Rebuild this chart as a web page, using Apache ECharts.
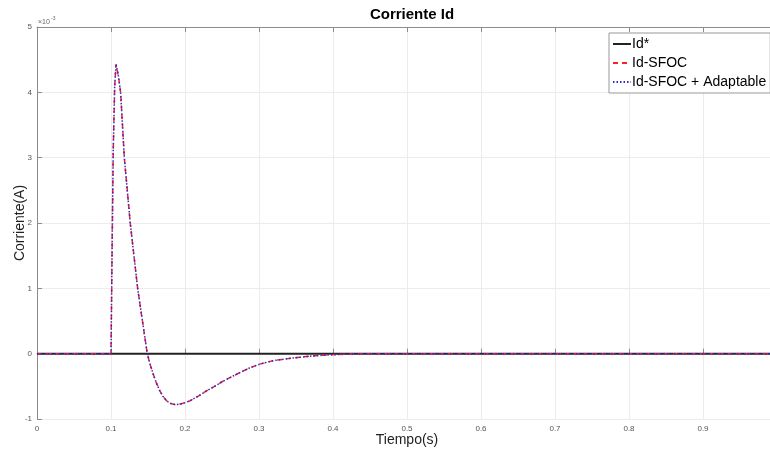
<!DOCTYPE html>
<html>
<head>
<meta charset="utf-8">
<script src="https://cdn.jsdelivr.net/npm/echarts@6/dist/echarts.min.js"></script>
<style>html,body{margin:0;padding:0;background:#fff}#c{width:770px;height:452px}</style>
</head>
<body>
<div id="c"></div>
<script>
// Values in units of 1e-3 A (axis shows x10^-3)
const refTime = [0, 1];
const refValues = [0, 0];
const timeSec = [0, 0.1, 0.1015, 0.103, 0.105, 0.1068, 0.108, 0.110, 0.113, 0.118, 0.126, 0.136, 0.149, 0.153, 0.157, 0.161, 0.166, 0.170, 0.175, 0.180, 0.187, 0.194, 0.200, 0.207, 0.218, 0.229, 0.240, 0.250, 0.262, 0.274, 0.287, 0.301, 0.319, 0.333, 0.346, 0.368, 0.391, 0.42, 0.46, 0.6, 0.8, 1.0];
const idSfoc =  [0, 0, 1.6, 3.1, 4.1, 4.43, 4.41, 4.25, 4.0, 3.0, 2.0, 1.0, 0, -0.17, -0.31, -0.44, -0.57, -0.65, -0.72, -0.76, -0.78, -0.77, -0.75, -0.72, -0.65, -0.57, -0.50, -0.43, -0.36, -0.29, -0.22, -0.16, -0.107, -0.085, -0.066, -0.04, -0.02, -0.006, 0, 0, 0, 0];
const idAdapt = [0, 0, 1.6, 3.1, 4.1, 4.43, 4.41, 4.25, 4.0, 3.0, 2.0, 1.0, 0, -0.17, -0.31, -0.44, -0.57, -0.65, -0.72, -0.76, -0.78, -0.77, -0.75, -0.72, -0.65, -0.57, -0.50, -0.43, -0.36, -0.29, -0.22, -0.16, -0.107, -0.085, -0.066, -0.04, -0.02, -0.006, 0, 0, 0, 0];
const seriesNames = ['Id*', 'Id-SFOC', 'Id-SFOC + Adaptable'];
const xTickLabels = ['0','0.1','0.2','0.3','0.4','0.5','0.6','0.7','0.8','0.9',''];
const yTickLabels = ['-1','0','1','2','3','4','5'];

const pairs = (xs, ys) => xs.map((x, i) => [x, ys[i]]);
const chart = echarts.init(document.getElementById('c'));
const axisCol = '#8c8c8c';
const FF = 'Liberation Sans, Arial, sans-serif';
const labelStyle = {fontSize: 8, color: '#555', fontFamily: FF};
chart.setOption({
  animation: false,
  title: {
    text: 'Corriente Id', left: 407, top: 2, textAlign: 'center',
    textStyle: {fontSize: 15, fontWeight: 'bold', color: '#000', fontFamily: FF}
  },
  grid: {left: 37, right: -7, top: 27, bottom: 33, containLabel: false, outerBoundsMode: 'none'},
  legend: {
    orient: 'vertical', left: 609, top: 33, padding: [4, 4, 4, 3],
    backgroundColor: '#fff', borderColor: '#999', borderWidth: 1,
    itemWidth: 18, itemHeight: 10, itemGap: 5,
    itemStyle: {opacity: 0},
    textStyle: {fontSize: 14, color: '#000', fontFamily: FF, padding: [0,0,0,-4]},
    data: seriesNames
  },
  xAxis: [{
    type: 'value', min: 0, max: 1, interval: 0.1,
    name: 'Tiempo(s)', nameLocation: 'middle', nameGap: 14, nameMoveOverlap: false,
    nameTextStyle: {fontSize: 14, color: '#222', fontFamily: FF},
    axisLine: {show: true, lineStyle: {color: axisCol}},
    axisTick: {show: true, inside: true, length: 5, lineStyle: {color: axisCol}},
    axisLabel: Object.assign({margin: 6, formatter: (v) => xTickLabels[Math.round(v * 10)]}, labelStyle),
    splitLine: {show: true, lineStyle: {color: '#ececec'}}
  }, {
    type: 'value', min: 0, max: 1, interval: 0.1, position: 'top',
    axisLine: {show: true, lineStyle: {color: axisCol}},
    axisTick: {show: true, inside: true, length: 5, lineStyle: {color: axisCol}},
    axisLabel: {show: false}, splitLine: {show: false}
  }],
  yAxis: {
    type: 'value', min: -1, max: 5, interval: 1,
    name: 'Corriente(A)', nameLocation: 'middle', nameGap: 10, nameMoveOverlap: false,
    nameTextStyle: {fontSize: 14, color: '#222', fontFamily: FF},
    axisLine: {show: true, lineStyle: {color: axisCol}},
    axisTick: {show: true, inside: true, length: 5, lineStyle: {color: axisCol}},
    axisLabel: Object.assign({margin: 5, formatter: (v) => yTickLabels[Math.round(v) + 1]}, labelStyle),
    splitLine: {show: true, lineStyle: {color: '#ececec'}}
  },
  graphic: [
    {type: 'text', left: 38, top: 19, style: {text: '×10', fontSize: 7, fill: '#666', fontFamily: FF}},
    {type: 'text', left: 51, top: 16, style: {text: '-3', fontSize: 5, fill: '#666', fontFamily: FF}}
  ],
  series: [
    {name: seriesNames[0], type: 'line', data: pairs(refTime, refValues), symbol: 'none', showSymbol: false,
     lineStyle: {color: '#222', width: 2}, itemStyle: {color: '#222'}, z: 1},
    {name: seriesNames[1], type: 'line', data: pairs(timeSec, idSfoc), symbol: 'none', showSymbol: false,
     lineStyle: {color: '#ff1f1f', width: 1.5, type: [5, 4]}, itemStyle: {color: '#ff1f1f'}, z: 2},
    {name: seriesNames[2], type: 'line', data: pairs(timeSec, idAdapt), symbol: 'none', showSymbol: false,
     lineStyle: {color: '#2a2acc', width: 1.5, type: [1.5, 2]}, itemStyle: {color: '#2a2acc'}, z: 3}
  ]
});
</script>
</body>
</html>
